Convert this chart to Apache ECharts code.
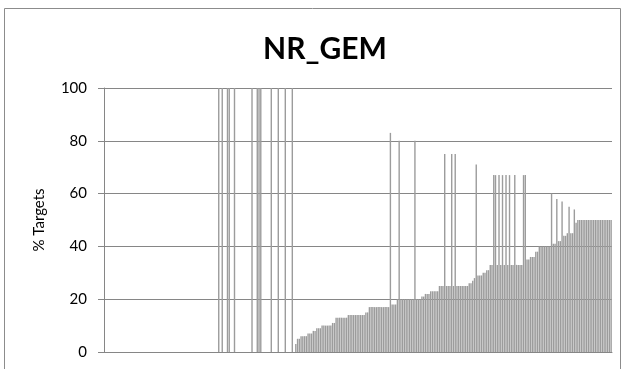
<!DOCTYPE html>
<html>
<head>
<meta charset="utf-8">
<script src="https://cdn.jsdelivr.net/npm/echarts@6/dist/echarts.min.js"></script>
<style>
  html, body { margin: 0; padding: 0; background: #ffffff; }
  #chart { width: 625px; height: 369px; }
</style>
</head>
<body>
<div id="chart"></div>
<script>
// Share of targets (%) for each gene, sorted by the underlying ratio
const targetPct = [
  0,0,0,0,0,0,0,0,0,0,
  0,0,0,0,0,0,0,0,0,0,
  0,0,0,0,0,0,0,0,0,0,
  0,0,0,0,0,0,0,0,0,0,
  0,0,0,0,0,0,0,0,0,0,
  0,0,0,0,0,0,0,0,0,0,
  0,0,0,0,0,
  100,0,100,0,0,100,100,0,0,100,
  0,0,0,0,0,0,0,0,0,100,
  0,0,100,100,100,0,0,0,0,0,
  100,0,0,0,100,0,0,0,100,0,
  0,0,100,
  0,3,5,5,6,6,6,6,7,7,
  7,8,8,9,9,9,10,10,10,10,
  10,10,11,11,13,13,13,13,13,13,
  13,14,14,14,14,14,14,14,14,14,
  14,15,15,17,17,17,17,17,17,17,
  17,17,17,17,17,83,18,18,18,20,
  80,20,20,20,20,20,20,20,20,80,
  20,20,20,21,21,22,22,22,23,23,
  23,23,23,25,25,25,75,25,25,25,
  75,25,75,25,25,25,25,25,25,25,
  26,26,27,28,71,29,29,29,30,30,
  31,31,33,33,67,67,33,67,33,67,
  33,67,33,67,33,33,67,33,33,33,
  33,67,67,35,35,36,36,36,38,38,
  40,40,40,40,40,40,40,60,41,41,
  58,42,42,57,44,44,45,55,45,45,
  54,49,50,50,50,50,50,50,50,50,
  50,50,50,50,50,50,50,50,50,50,
  50,50
];
const categories = targetPct.map((_, i) => 'G' + (i + 1));
const yTicks = [0, 20, 40, 60, 80, 100];
const chartTitle = 'NR_GEM';
const yName = '% Targets';

const font = 'Lato, "Open Sans", sans-serif';
const chart = echarts.init(document.getElementById('chart'), null, { renderer: 'canvas' });
chart.setOption({
  animation: false,
  backgroundColor: '#ffffff',
  title: {
    text: chartTitle,
    left: 320,
    top: 29,
    textAlign: 'center',
    textStyle: { fontFamily: font, fontWeight: 'bold', fontSize: 30, color: '#000000' }
  },
  graphic: [{
    type: 'rect',
    shape: { x: 4.5, y: 8.5, width: 616, height: 400 },
    style: { fill: 'none', stroke: '#8c8c8c', lineWidth: 1 },
    silent: true,
    z: -1
  }],
  grid: { left: 104, right: 13, top: 88, bottom: 17, containLabel: false },
  xAxis: {
    type: 'category',
    data: categories,
    axisLine: { show: true, lineStyle: { color: '#868686', width: 1 } },
    axisTick: { show: false },
    axisLabel: { show: false },
    splitLine: { show: false }
  },
  yAxis: {
    type: 'value',
    min: yTicks[0],
    max: yTicks[yTicks.length - 1],
    interval: yTicks[1] - yTicks[0],
    name: yName,
    nameLocation: 'middle',
    nameGap: 57,
    nameRotate: 90,
    nameTextStyle: { fontFamily: font, fontSize: 15, color: '#000000' },
    axisLine: { show: true, lineStyle: { color: '#868686', width: 1 } },
    axisTick: { show: true, inside: false, length: 6, lineStyle: { color: '#868686' } },
    axisLabel: { fontFamily: font, fontSize: 15, color: '#000000', margin: 17 },
    splitLine: { show: true, lineStyle: { color: '#868686', width: 1 } }
  },
  series: [{
    type: 'bar',
    data: targetPct,
    barWidth: '80%',
    itemStyle: { color: '#9c9c9c' },
    silent: true
  }]
});
</script>
</body>
</html>
